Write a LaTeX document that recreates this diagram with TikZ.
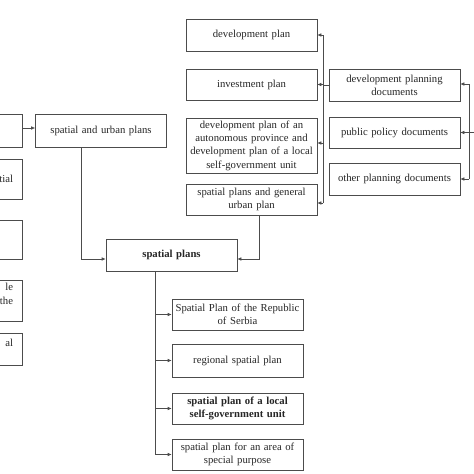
\documentclass[tikz,border=0pt]{standalone}
\usepackage{fontspec}
\setmainfont{Liberation Serif}
\usetikzlibrary{arrows.meta}
\begin{document}
\begin{tikzpicture}[x=1pt,y=-1pt,
  txt/.style={font=\fontsize{10.7}{13.3}\selectfont, text=black!85},
  box/.style={txt, draw=black!70, line width=0.6pt, align=center, inner sep=0pt, text width=131pt, minimum width=131pt},
  boldbox/.style={box, font=\fontsize{10.7}{13.3}\selectfont\bfseries},
  lbox/.style={txt, draw=black!70, line width=0.6pt, align=right, inner xsep=9pt, inner ysep=0pt, text width=124pt},
  conn/.style={draw=black!70, line width=0.6pt},
  arr/.style={conn, -{Latex[length=4pt,width=3.5pt]}}]
\useasboundingbox (0,0) rectangle (474,474);
% left column (cut off)
\node[lbox, minimum height=33pt] (l1) at (-49,130.5) {};
\node[lbox, minimum height=40pt] (l2) at (-49,179) {tial};
\node[lbox, minimum height=39pt] (l3) at (-49,239.5) {};
\node[lbox, minimum height=41pt] (l4) at (-49,300.5) {le\hspace*{6pt}\\the\\\mbox{}};
\node[lbox, minimum height=32pt] (l5) at (-49,349) {al\hspace*{8pt}\\\mbox{}};
% main boxes
\node[box, minimum height=33pt] (sup) at (101,130.5) {spatial and urban plans};
\node[box, minimum height=32pt] (dp) at (251.5,35) {development plan};
\node[box, minimum height=31pt] (ip) at (251.5,84.5) {investment plan};
\node[box, minimum height=55pt] (dpa) at (251.5,145.5) {development plan of an\\autonomous province and\\development plan of a local\\self-government unit};
\node[box, minimum height=31pt] (spg) at (251.5,199.5) {spatial plans and general\\urban plan};
\node[box, minimum height=32pt] (dpd) at (394.5,85) {development planning\\documents};
\node[box, minimum height=31pt] (ppd) at (394.5,132.5) {public policy documents};
\node[box, minimum height=32pt] (opd) at (394.5,179) {other planning documents};
\node[boldbox, minimum height=32pt] (sp) at (171.5,255) {spatial plans};
\node[box, minimum height=31pt] (r1) at (237.5,314.5) {Spatial Plan of the Republic\\of Serbia};
\node[box, minimum height=33pt] (r2) at (237.5,360.5) {regional spatial plan};
\node[boldbox, minimum height=31pt] (r3) at (237.5,408.5) {spatial plan of a local\\self-government unit};
\node[box, minimum height=31pt] (r4) at (237.5,454.5) {spatial plan for an area of\\special purpose};
% connectors
\draw[arr] ([yshift=2.5pt]l1.east) -- ([yshift=2.5pt]sup.west);
\draw[arr] ([xshift=-20pt]sup.south) |- ([yshift=-4pt]sp.west);
\draw[arr] ([xshift=7.5pt]spg.south) |- ([yshift=-4pt]sp.east);
% left bar
\coordinate (lb1) at (323,35);
\coordinate (lb2) at (323,203);
\draw[conn] (lb1) -- (lb2);
\draw[conn] (dpd.west) -- (dpd.west -| lb1);
\draw[arr] (lb1) -- (lb1 -| dp.east);
\draw[arr] (ip.east -| lb1) -- (ip.east);
\draw[arr] ([yshift=2.5pt]dpa.east -| lb1) -- ([yshift=2.5pt]dpa.east);
\draw[arr] (lb2) -- (lb2 -| spg.east);
% right bar
\coordinate (rb1) at (469,84);
\coordinate (rb2) at (469,179);
\coordinate (rin) at (480,132.5);
\draw[conn] (rb1) -- (rb2);
\draw[conn] (rin) -- (rin -| rb1);
\draw[arr] (rb1) -- (rb1 -| dpd.east);
\draw[arr] (ppd.east -| rb1) -- (ppd.east);
\draw[arr] (rb2) -- (rb2 -| opd.east);
% bottom bar
\coordinate (bt) at ([xshift=-16.5pt]sp.south);
\draw[conn] (bt) -- (bt |- r4.west);
\foreach \n in {r1,r2,r3,r4} \draw[arr] (bt |- \n.west) -- (\n.west);
\end{tikzpicture}
\end{document}
